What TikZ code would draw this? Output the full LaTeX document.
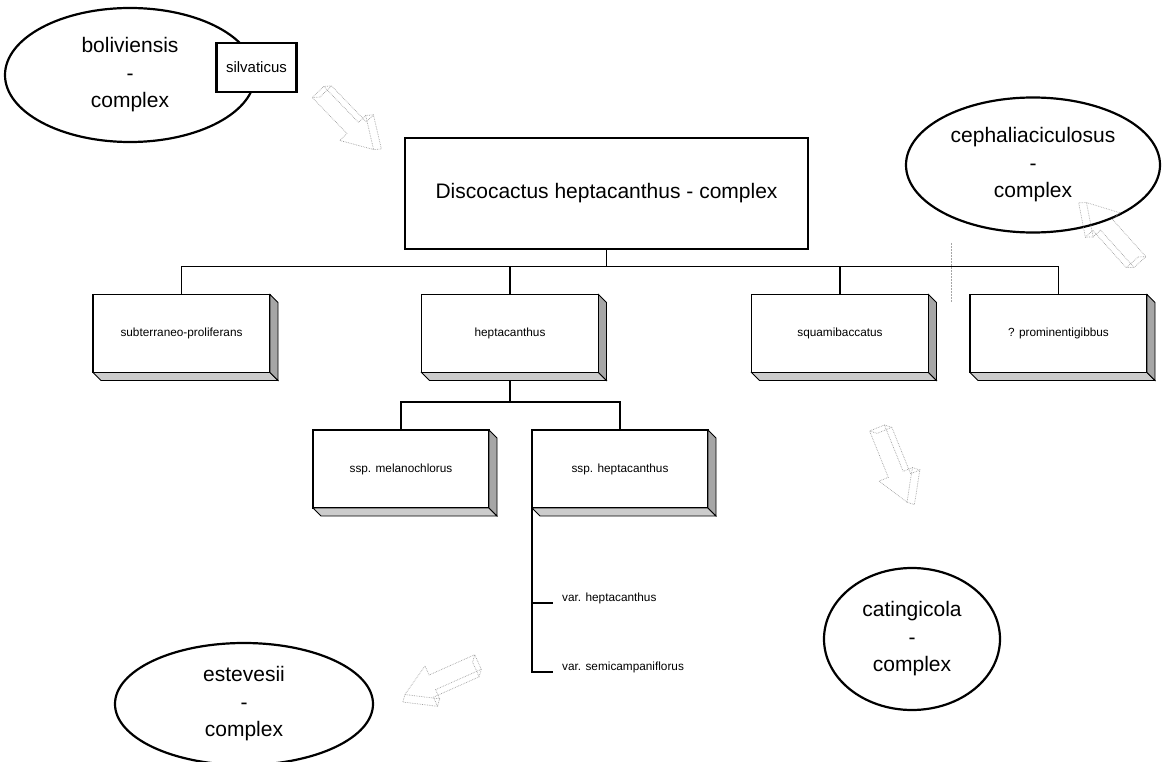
\documentclass[tikz,border=0pt]{standalone}
\usepackage{fontspec}
\setmainfont{Liberation Sans}
\usetikzlibrary{shapes.geometric,calc}
\newcommand{\extrude}[1]{%
  \filldraw[fill=gray!40, draw=black, line width=0.8pt] (#1.south west) -- (#1.south east) -- ($(#1.south east)+(8,8)$) -- ($(#1.south west)+(8,8)$) -- cycle;
  \filldraw[fill=gray!70, draw=black, line width=0.8pt] (#1.north east) -- ($(#1.north east)+(8,8)$) -- ($(#1.south east)+(8,8)$) -- (#1.south east) -- cycle;
}
\newcommand{\blockarr}[2]{%
  \begin{scope}[shift={#1}, rotate=#2]
    \draw[barrow] (0,-8) -- (50,-8) -- (50,-18) -- (80,0) -- (50,18) -- (50,8) -- (0,8) -- cycle;
    \draw[barrow] (0,-8) -- (5,-14) -- (5,2) -- (0,8);
    \draw[barrow] (5,-14) -- (55,-14) -- (55,-24) -- (85,-6) -- (80,0);
    \draw[barrow] (50,-18) -- (55,-24);
  \end{scope}
}
\begin{document}
\begin{tikzpicture}[x=1pt,y=-1pt,
  ell/.style={draw, ellipse, line width=2.2pt, align=center, inner sep=0pt, font=\fontsize{21}{27.5}\selectfont},
  box3d/.style={draw, line width=1.4pt, outer sep=0pt, minimum width=177pt, minimum height=78pt, inner sep=0pt, font=\fontsize{11.8}{14}\selectfont, fill=white},
  conn/.style={line width=1.2pt},
  barrow/.style={densely dotted, gray!75, line width=0.7pt},
  varlabel/.style={inner sep=0pt, font=\fontsize{11.8}{14}\selectfont}
  ]
\useasboundingbox (0,0) rectangle (1163,762);

% main box
\node[draw, line width=1.3pt, outer sep=0pt, minimum width=403pt, minimum height=111pt, font=\fontsize{21}{25}\selectfont] (M) at (606.5,193.5) {Discocactus heptacanthus - complex};

% first level boxes
\node[box3d] (b1) at (181.5,333.5) {subterraneo-proliferans};
\node[box3d] (b2) at (510,333.5) {heptacanthus};
\node[box3d] (b3) at (840,333.5) {squamibaccatus};
\node[box3d] (b4) at (1058.5,333.5) {? prominentigibbus};
\foreach \n in {b1,b2,b3,b4} {\extrude{\n}}

% second level boxes
\node[box3d, minimum width=176pt] (s1) at (401,469) {ssp. melanochlorus};
\node[box3d, minimum width=176pt] (s2) at (620,469) {ssp. heptacanthus};
\foreach \n in {s1,s2} {\extrude{\n}}

% connectors
\draw[conn] (M.south) -- ++(0,18);
\draw[conn] (b1.north) -- ++(0,-28) -| (b4.north);
\draw[conn] (b2.north) -- ++(0,-28);
\draw[conn] (b3.north) -- ++(0,-28);
\draw[conn] ($(b2.south)+(0,8)$) -- ++(0,20);
\draw[conn] (s1.north) -- ++(0,-28) -| (s2.north);

% varieties
\node[varlabel, anchor=base west] (v1) at (562,601) {var. heptacanthus};
\node[varlabel, anchor=base west] (v2) at (562,670) {var. semicampaniflorus};
\draw[conn] (s2.south west) |- ([xshift=-9pt,yshift=-2pt]v2.base west);
\draw[conn] (s2.south west |- v1.base west) ++(0,2) -- ++(21,0);

% faint dotted line
\draw[densely dotted, gray!70, line width=0.5pt] (951,243) -- (951,302);

% ellipses
\node[ell, minimum width=250pt, minimum height=134pt] (bol) at (130,75) {boliviensis\\-\\complex};
\node[draw, line width=2.2pt, fill=white, minimum width=80pt, minimum height=49pt, inner sep=0pt, font=\fontsize{15}{18}\selectfont] (sil) at (256.5,67.5) {silvaticus};
\node[ell, minimum width=254pt, minimum height=135pt] (ceph) at (1033,165) {cephaliaciculosus\\-\\complex};
\node[ell, minimum width=176pt, minimum height=142pt] (cat) at (912,639) {catingicola\\-\\complex};
\node[ell, minimum width=258pt, minimum height=122pt] (est) at (244,704) {estevesii\\-\\complex};

% block arrows
\blockarr{(318,92)}{-46}
\blockarr{(1140,262)}{132}
\blockarr{(877,428)}{-68}
\blockarr{(478,662)}{204}
\end{tikzpicture}
\end{document}
